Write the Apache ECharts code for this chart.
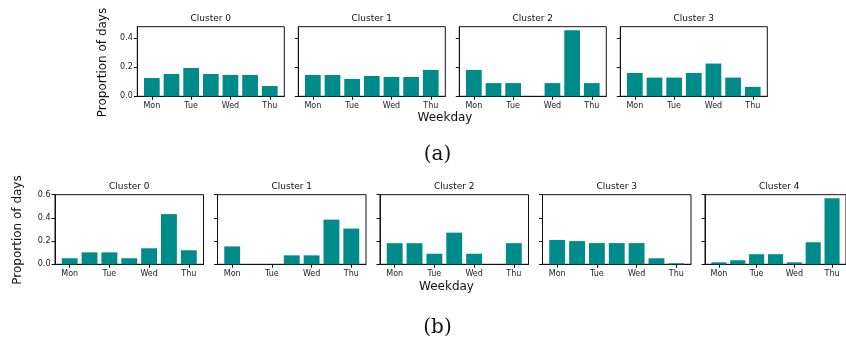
<!DOCTYPE html>
<html><head><meta charset="utf-8">
<script src="https://cdn.jsdelivr.net/npm/echarts@6/dist/echarts.min.js"></script>
<style>html,body{margin:0;padding:0;background:#fff}#c{width:846px;height:339px}</style>
</head><body><div id="c"></div>
<script>
// ---- data ----
const weekdayTickLabels = ['Mon', 'Tue', 'Wed', 'Thu'];
const weekdayTickPositions = [0, 2, 4, 6];
const dayIndex = [0, 1, 2, 3, 4, 5, 6];

const clustersA = ['Cluster 0', 'Cluster 1', 'Cluster 2', 'Cluster 3'];
const a0 = [0.126, 0.154, 0.195, 0.154, 0.147, 0.147, 0.071];
const a1 = [0.147, 0.147, 0.120, 0.140, 0.133, 0.133, 0.182];
const a2 = [0.182, 0.091, 0.091, 0.000, 0.091, 0.455, 0.091];
const a3 = [0.161, 0.129, 0.129, 0.161, 0.226, 0.129, 0.065];
const yTicksA = [0, 0.2, 0.4];

const clustersB = ['Cluster 0', 'Cluster 1', 'Cluster 2', 'Cluster 3', 'Cluster 4'];
const b0 = [0.052, 0.103, 0.103, 0.052, 0.138, 0.433, 0.121];
const b1 = [0.154, 0.000, 0.000, 0.077, 0.077, 0.385, 0.308];
const b2 = [0.182, 0.182, 0.091, 0.273, 0.091, 0.000, 0.182];
const b3 = [0.210, 0.200, 0.183, 0.183, 0.183, 0.052, 0.009];
const b4 = [0.017, 0.035, 0.087, 0.087, 0.017, 0.190, 0.569];
const yTicksB = [0, 0.2, 0.4, 0.6];

const yLabel = 'Proportion of days';
const xLabel = 'Weekday';
const subLabels = ['(a)', '(b)'];

// ---- build ----
const FONT = 'DejaVu Sans';
const INK = '#111';
const BAR = '#008B8B';
const grids = [], xAxes = [], yAxes = [], series = [], graphics = [];

function addRow(names, values, lefts, top, width, height, ymax, yticks) {
  names.forEach((name, i) => {
    const gi = grids.length;
    grids.push({left: lefts[i], top: top, width: width, height: height, show: true,
      borderColor: INK, borderWidth: 1, backgroundColor: 'transparent'});
    xAxes.push({type: 'value', gridIndex: gi, min: -0.74, max: 6.74,
      axisLine: {show: true, onZero: false, lineStyle: {color: INK, width: 1}},
      axisTick: {show: true, inside: false, length: 3.5, customValues: weekdayTickPositions, lineStyle: {color: INK, width: 1}},
      axisLabel: {show: true, customValues: weekdayTickPositions,
        formatter: v => weekdayTickLabels[weekdayTickPositions.indexOf(Math.round(v))],
        fontFamily: FONT, fontSize: 8, color: '#222', margin: 5.5},
      splitLine: {show: false}});
    yAxes.push({type: 'value', gridIndex: gi, min: 0, max: ymax,
      axisLine: {show: true, onZero: false, lineStyle: {color: INK, width: 1}},
      axisTick: {show: true, inside: false, length: 3.5, customValues: yticks, lineStyle: {color: INK, width: 1}},
      axisLabel: {show: i === 0, customValues: yticks, formatter: v => Number(v).toFixed(1),
        fontFamily: FONT, fontSize: 8, color: '#222', margin: 4.5},
      splitLine: {show: false}});
    series.push({type: 'bar', xAxisIndex: gi, yAxisIndex: gi, barWidth: '80%',
      data: dayIndex.map((d, k) => [d, values[i][k]]),
      itemStyle: {color: BAR}, silent: true});
    graphics.push({type: 'text', x: lefts[i] + width / 2, y: top - 7.6,
      style: {text: name, font: '9px "DejaVu Sans"', fill: INK, align: 'center', verticalAlign: 'middle'}});
  });
}

addRow(clustersA, [a0, a1, a2, a3], [137.3, 298.3, 459.3, 620.3], 26.7, 147, 69.6, 0.48, yTicksA);
addRow(clustersB, [b0, b1, b2, b3, b4], [55, 217.5, 380, 542.5, 705], 194.7, 148.5, 69.6, 0.6, yTicksB);

function txt(x, y, s, font, rot) {
  graphics.push({type: 'text', x: x, y: y, rotation: rot || 0,
    style: {text: s, font: font, fill: INK, align: 'center', verticalAlign: 'middle'}});
}
txt(103, 62.5, yLabel, '12px "DejaVu Sans"', Math.PI / 2);
txt(18.3, 230, yLabel, '12px "DejaVu Sans"', Math.PI / 2);
txt(445, 118, xLabel, '12px "DejaVu Sans"');
txt(446.5, 286.5, xLabel, '12px "DejaVu Sans"');
txt(437.5, 155, subLabels[0], '20px "DejaVu Serif"');
txt(437.5, 327.5, subLabels[1], '20px "DejaVu Serif"');

const chart = echarts.init(document.getElementById('c'), null, {renderer: 'canvas'});
chart.setOption({animation: false, grid: grids, xAxis: xAxes, yAxis: yAxes, series: series, graphic: graphics});
</script>
</body></html>
